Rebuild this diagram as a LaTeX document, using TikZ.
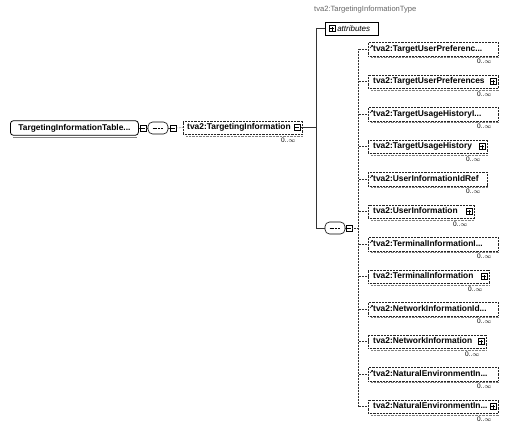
\documentclass[tikz,border=0pt]{standalone}
\usepackage{fontspec}
\newfontfamily\xsf{Liberation Sans}
\usetikzlibrary{arrows.meta}
\begin{document}
\begin{tikzpicture}[x=1pt,y=-1pt,
  lbl/.style={font=\xsf\bfseries\fontsize{8.4}{10}\selectfont},
  elem/.style={lbl, draw=black!85, densely dotted, line width=0.45pt,
    text height=6.5pt, text depth=2pt, inner xsep=2pt, inner ysep=2.5pt,
    anchor=west, align=left},
  occ/.style={font=\xsf\fontsize{6.5}{7}\selectfont, inner sep=0.5pt, anchor=north east},
  iconb/.style={draw, fill=white, solid, line width=0.45pt, minimum size=6pt, inner sep=0pt},
  minusb/.style={iconb, path picture={\draw ([xshift=1pt]path picture bounding box.west) -- ([xshift=-1pt]path picture bounding box.east);}},
  plusb/.style={iconb, path picture={\draw ([xshift=1pt]path picture bounding box.west) -- ([xshift=-1pt]path picture bounding box.east);
      \draw ([yshift=1pt]path picture bounding box.south) -- ([yshift=-1pt]path picture bounding box.north);}},
  comp/.style={draw, line width=0.6pt, rounded corners=4.5pt, minimum width=20pt, minimum height=12pt, inner sep=0pt,
    path picture={\draw[line width=0.5pt, dash pattern=on 2pt off 0.8pt] ([xshift=-5.5pt]path picture bounding box.center) -- ([xshift=5.5pt]path picture bounding box.center);}},
  conn/.style={line width=0.5pt, black!80},
  dconn/.style={line width=0.5pt, black!80, densely dotted},
  shad/.style={densely dotted, black!50, line width=0.4pt}
]
\useasboundingbox[fill=white] (0,0) rectangle (507,426);

% type label
\node[font=\xsf\fontsize{7.6}{8}\selectfont, text=black!60, anchor=west, inner sep=0pt] (typ) at (314,10) {tva2:TargetingInformationType};

% root element
\node[lbl, draw, rounded corners=3pt, line width=0.8pt, minimum width=128pt, minimum height=13pt,
  inner xsep=2pt, anchor=west] (root) at (10,128) {TargetingInformationTable...};
\draw[black!50, line width=0.5pt] ([xshift=3pt,yshift=-1.2pt]root.south west) -- ([xshift=-2pt,yshift=-1.2pt]root.south east);
\node[minusb] (rootm) at (143,128) {};
\draw[conn] (root.east) -- (rootm.west);

% sequence compositor
\node[comp] (seq) at (158,128) {};
\node[minusb] (seqm) at (173,128) {};
\draw[conn] (rootm.east) -- (seq.west);
\draw[conn] (seq.east) -- (seqm.west);

% top element
\node[elem, text width=115pt] (top) at (183,127.5) {\hspace*{2pt}tva2:TargetingInformation};
\draw[shad] ([xshift=3pt,yshift=-1.6pt]top.south west) -- ([yshift=-1.6pt]top.south east);
\node[minusb] (topm) at ([xshift=-5pt]top.east) {};
\node[occ] (topo) at ([xshift=-6pt,yshift=-2.5pt]top.south east) {0..$\infty$};
\draw[dconn] (seqm.east) -- (top.west);

% trunk
\coordinate (trunkmid) at (316,127.5);
\coordinate (trunktop) at (316,28.5);
\coordinate (trunkbot) at (316,228);
\draw[conn] (topm.east) -- (trunkmid);

% attributes
\node[draw, line width=0.5pt, minimum height=13pt, text width=49pt, inner xsep=2pt, anchor=west, align=left,
  font=\xsf\itshape\fontsize{8}{9}\selectfont] (attr) at (325,28.5) {\hspace*{10pt}attributes};
\node[plusb] (attrp) at ([xshift=7pt]attr.west) {};
\draw[conn] (attr.west) -- (trunktop) -- (trunkbot);

% choice compositor
\node[comp] (choice) at (335,228) {};
\node[minusb] (choicem) at (349,228) {};
\draw[conn] (trunkbot) -- (choice.west);
\draw[conn] (choice.east) -- (choicem.west);
\coordinate (vmid) at (358,228);
\coordinate (vtop) at (358,49);
\coordinate (vbot) at (358,406.5);
\draw[dconn] (choicem.east) -- (vmid);
\draw[dconn] (vtop) -- (vbot);

% children
\foreach \i/\y/\t/\w/\r/\ic in {
  1/49/{tva2:TargetUserPreferenc...}/130/1/0,
  2/81.5/{tva2:TargetUserPreferences}/130/0/1,
  3/114/{tva2:TargetUsageHistoryI...}/130/1/0,
  4/146.5/{tva2:TargetUsageHistory}/119/0/1,
  5/179/{tva2:UserInformationIdRef}/119/1/0,
  6/211.5/{tva2:UserInformation}/106/0/1,
  7/244/{tva2:TerminalInformationI...}/130/1/0,
  8/276.5/{tva2:TerminalInformation}/121/0/1,
  9/309/{tva2:NetworkInformationId...}/130/1/0,
  10/341.5/{tva2:NetworkInformation}/118/0/1,
  11/374/{tva2:NaturalEnvironmentIn...}/130/1/0,
  12/406.5/{tva2:NaturalEnvironmentIn...}/130/0/1}{
  \pgfmathsetmacro\tw{\w-4}
  \node[elem, text width=\tw pt] (c\i) at (368,\y) {\hspace*{3pt}\t};
  \draw[shad] ([xshift=3pt,yshift=-1.6pt]c\i.south west) -- ([yshift=-1.6pt]c\i.south east);
  \draw[dconn] (c\i.west) -- (c\i.west -| vtop);
  \node[occ] (o\i) at ([xshift=-6pt,yshift=-2.5pt]c\i.south east) {0..$\infty$};
  \ifnum\r=1
    \draw[line width=0.4pt, -{Stealth[length=2pt,width=2pt]}] ([xshift=2pt,yshift=-6pt]c\i.north west) -- ++(3,-3);
  \fi
  \ifnum\ic=1
    \node[plusb] (p\i) at ([xshift=-5pt]c\i.east) {};
  \fi
}
\end{tikzpicture}
\end{document}
